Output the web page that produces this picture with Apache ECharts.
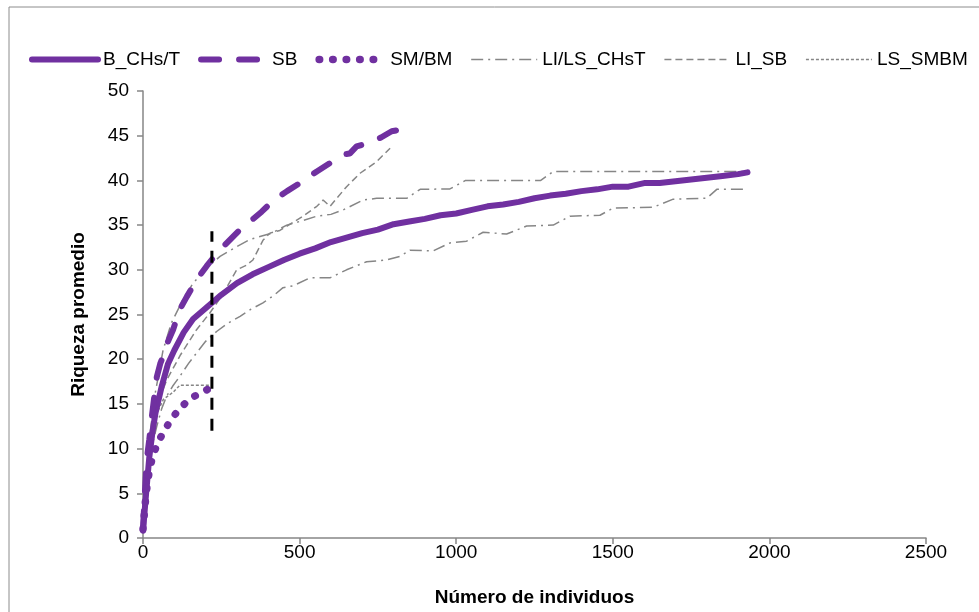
<!DOCTYPE html>
<html>
<head>
  <meta charset="utf-8" />
  <title>Riqueza promedio</title>
  <style>
    html, body { margin: 0; padding: 0; background: #fff; }
    #main { width: 979px; height: 612px; }
  </style>
</head>
<body>
  <div id="main"></div>
  <script src="https://cdn.jsdelivr.net/npm/echarts@6/dist/echarts.min.js"></script>
  <script>
    // [individuos, riqueza]
    var bChsT = [[0,0.8],[10,5],[20,9],[30,11.8],[40,14],[60,17],[80,19.5],[100,21],[130,23],[160,24.5],[200,25.7],[250,27.2],[300,28.5],[350,29.5],[400,30.3],[450,31.1],[500,31.8],[550,32.4],[600,33.1],[650,33.6],[700,34.1],[750,34.5],[800,35.1],[850,35.4],[900,35.7],[950,36.1],[1000,36.3],[1050,36.7],[1100,37.1],[1150,37.3],[1200,37.6],[1250,38.0],[1300,38.3],[1350,38.5],[1400,38.8],[1450,39.0],[1500,39.3],[1550,39.3],[1600,39.7],[1650,39.7],[1700,39.9],[1750,40.1],[1800,40.3],[1850,40.5],[1900,40.7],[1930,40.9]];
    var sb = [[0,1],[5,4.5],[12,8.8],[20,11],[28,13.5],[35,15.5],[44,18],[55,19.5],[64,20.3],[80,22],[96,23.3],[118,25.6],[140,27],[160,28.2],[180,29.3],[203,30.4],[230,31.6],[262,32.8],[290,33.8],[310,34.5],[345,35.5],[379,36.5],[400,37.2],[427,38],[460,38.8],[501,39.7],[530,40.4],[555,41],[600,42],[639,42.9],[660,43],[682,43.8],[720,44.2],[760,44.8],[794,45.5],[810,45.6]];
    var smBm = [[0,1],[10,5],[20,7.5],[30,9],[45,10.5],[60,11.5],[80,12.7],[110,14.2],[150,15.6],[205,16.6]];
    var lsChsT = [[0,1],[10,7],[20,11],[38,16],[64,21],[90,24],[128,26.7],[160,28.5],[203,30.2],[246,31.5],[300,32.6],[342,33.4],[411,34.1],[459,35],[510,35.5],[555,36],[600,36.2],[639,36.7],[703,37.8],[746,38],[842,38],[885,39],[980,39.05],[1030,40],[1270,40],[1310,41],[1927,41]];
    var liChsT = [[0,1],[8,4],[16,7.7],[30,10.5],[44,12.5],[60,14.5],[76,15.9],[95,17],[118,18.1],[145,19.5],[171,20.7],[200,22],[235,23.1],[270,24],[310,24.8],[345,25.6],[383,26.3],[420,27.2],[447,28],[479,28.2],[533,29.1],[597,29.1],[650,30],[714,30.9],[778,31.1],[820,31.5],[852,32.2],[926,32.1],[980,33],[1033,33.2],[1086,34.2],[1161,34.0],[1225,34.9],[1310,35],[1363,36],[1459,36.1],[1501,36.9],[1629,37],[1693,37.9],[1800,38],[1832,39],[1922,39]];
    var liSb = [[0,1],[10,5.5],[22,10.5],[44,14.8],[76,17.7],[120,20.5],[171,23.3],[214,25.2],[240,26.5],[267,28],[299,30],[330,30.5],[351,31.1],[383,33.3],[405,34.1],[437,34.4],[511,36],[555,37.1],[575,37.8],[597,37.1],[650,39.3],[693,40.8],[746,42.1],[789,43.6]];
    var lsSmbm = [[0,1],[8,5],[18,9],[30,12],[45,14],[65,15.5],[96,16.3],[118,17.1],[214,17.1]];
    var corte = [[220,12],[220,34.3]];
    var xTicks = [0, 500, 1000, 1500, 2000, 2500];

    var purple = '#7030A0';
    var gray = '#868686';

    var styles = {
      'B_CHs/T': { color: purple, width: 6, type: 'solid', cap: 'round' },
      'SB': { color: purple, width: 6, type: [18, 20], cap: 'round' },
      'SM/BM': { color: purple, width: 7.5, type: [0.5, 13], cap: 'round' },
      'LI/LS_CHsT': { color: gray, width: 1.5, type: [12, 5, 2, 5] },
      'LI_SB': { color: gray, width: 1.5, type: [7, 4] },
      'LS_SMBM': { color: gray, width: 1.5, type: [3, 2] }
    };
    var legendNames = ['B_CHs/T', 'SB', 'SM/BM', 'LI/LS_CHsT', 'LI_SB', 'LS_SMBM'];

    function mk(name, data) {
      return { name: name, type: 'line', symbol: 'none', data: data,
        itemStyle: { color: styles[name].color }, lineStyle: styles[name] };
    }

    var chart = echarts.init(document.getElementById('main'));
    chart.setOption({
      animation: false,
      textStyle: { fontFamily: 'Liberation Sans Narrow, Liberation Sans, sans-serif' },
      graphic: [{
        type: 'rect', shape: { x: 9, y: 7, width: 1100, height: 800 },
        style: { fill: 'none', stroke: '#8c8c8c', lineWidth: 1 }, silent: true
      }],
      legend: {
        top: 45, left: 24, itemWidth: 66, itemHeight: 14, itemGap: 18,
        textStyle: { fontSize: 19, color: '#000' },
        itemStyle: { opacity: 0 },
        data: legendNames.map(function (n) {
          return { name: n, lineStyle: styles[n], itemStyle: { opacity: 0 } };
        })
      },
      grid: { left: 143, right: 53, top: 91, bottom: 73 },
      xAxis: {
        type: 'value', min: 0, max: 2500, interval: 500,
        name: 'Número de individuos', nameLocation: 'middle', nameGap: 50,
        nameTextStyle: { fontSize: 19, fontWeight: 'bold', color: '#000' },
        axisLine: { lineStyle: { color: gray, width: 1.5 } },
        axisTick: { show: true, length: 6, lineStyle: { color: gray, width: 1.5 } },
        axisLabel: { fontSize: 19, color: '#000', margin: 5,
          formatter: function (v) { return xTicks.indexOf(v) >= 0 ? String(v) : ''; } },
        splitLine: { show: false }
      },
      yAxis: {
        type: 'value', min: 0, max: 50, interval: 5,
        name: 'Riqueza promedio', nameLocation: 'middle', nameGap: 55,
        nameTextStyle: { fontSize: 19, fontWeight: 'bold', color: '#000' },
        axisLine: { show: true, lineStyle: { color: gray, width: 1.5 } },
        axisTick: { show: true, length: 6, lineStyle: { color: gray, width: 1.5 } },
        axisLabel: { fontSize: 19, color: '#000', margin: 14 },
        splitLine: { show: false }
      },
      series: [
        mk('LI/LS_CHsT', lsChsT),
        mk('LI/LS_CHsT', liChsT),
        mk('LI_SB', liSb),
        mk('LS_SMBM', lsSmbm),
        mk('B_CHs/T', bChsT),
        mk('SB', sb),
        mk('SM/BM', smBm),
        { name: 'corte', type: 'line', symbol: 'none', data: corte,
          lineStyle: { color: '#000', width: 3, type: [12, 9] } }
      ]
    });
  </script>
</body>
</html>
